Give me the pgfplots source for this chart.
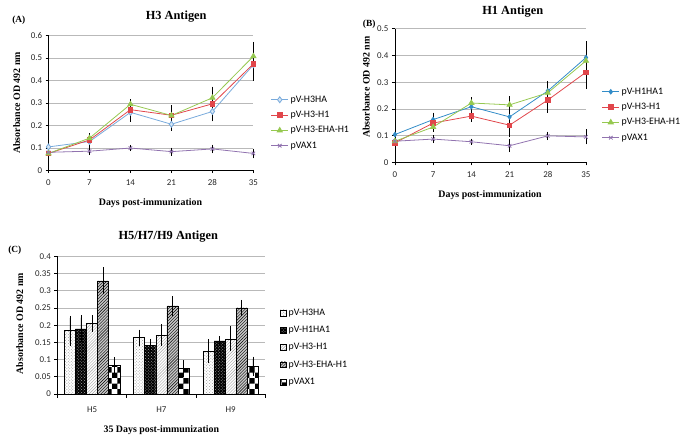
\documentclass[border=0pt]{standalone}
\usepackage{pgfplots}
\pgfplotsset{compat=1.18}
\usepackage{fontspec}
\setmainfont{Liberation Serif}
\newfontfamily\carlito{Carlito}
\usetikzlibrary{patterns}
\definecolor{cblueA}{RGB}{120,170,220}
\definecolor{cblueB}{RGB}{50,140,200}
\definecolor{cred}{RGB}{225,70,75}
\definecolor{cgreen}{RGB}{150,200,80}
\definecolor{cpurple}{RGB}{145,115,175}
\pgfplotsset{
  base/.style={
    scale only axis, axis x line*=bottom, axis y line*=left, ymin=0,
    ymajorgrids, grid style={gray!55, line width=0.6pt},
    tick align=outside, major tick length=3pt,
    tick style={black, line width=0.6pt}, axis line style={black, line width=0.6pt},
    ticklabel style={font=\carlito\fontsize{9}{10}\selectfont, text=black!85},
    /pgf/number format/assume math mode=true, scaled y ticks=false,
    /pgf/number format/fixed, /pgf/number format/precision=2,
    legend style={draw=none, fill=none, font=\carlito\fontsize{10}{11}\selectfont, anchor=west,
      row sep=3.5pt},
    legend cell align=left,
  },
  errb/.style={error bars/.cd, y dir=both, y explicit,
    error bar style={black, line width=0.6pt, solid},
    error mark options={black, line width=0.6pt, mark size=2.2pt, solid}},
}
\begin{document}
\begin{tikzpicture}[x=1pt,y=1pt]
\path (0,0) rectangle (685,449);
% ---------------- Panel A
\begin{axis}[base, clip=false, at={(49pt,277pt)}, anchor=south west, width=207pt, height=136pt,
  xmin=0, xmax=35, xtick={0,7,14,21,28,35}, ymax=0.6, ytick={0,0.1,0.2,0.3,0.4,0.5,0.6},
  xticklabel style={yshift=-3pt},
  legend style={at={(1.07,0.353)}}]
\addplot[cblueA, line width=0.8pt, mark=diamond*, mark size=3pt, mark options={fill=cblueA!30, draw=cblueA, solid}, errb]
 table[x=x, y=y, y error=e] {
x y e
0 0.104 0.010
7 0.128 0.020
14 0.258 0.032
21 0.205 0.020
28 0.262 0.035
35 0.470 0.060
};
\addlegendentry{pV-H3HA}
\addplot[cred, line width=0.8pt, mark=square*, mark size=2.3pt, mark options={fill=cred, draw=cred, solid}, errb]
 table[x=x, y=y, y error=e] {
x y e
0 0.075 0.010
7 0.135 0.015
14 0.270 0.025
21 0.245 0.020
28 0.296 0.030
35 0.474 0.065
};
\addlegendentry{pV-H3-H1}
\addplot[cgreen, line width=0.8pt, mark=triangle*, mark size=3pt, mark options={fill=cgreen, draw=cgreen, solid}, errb]
 table[x=x, y=y, y error=e] {
x y e
0 0.075 0.010
7 0.143 0.012
14 0.294 0.012
21 0.244 0.035
28 0.323 0.040
35 0.508 0.055
};
\addlegendentry{pV-H3-EHA-H1}
\addplot[cpurple, line width=0.8pt, mark=x, mark size=2.5pt, mark options={draw=cpurple, solid}, errb]
 table[x=x, y=y, y error=e] {
x y e
0 0.080 0.005
7 0.085 0.008
14 0.099 0.004
21 0.083 0.008
28 0.095 0.010
35 0.075 0.012
};
\addlegendentry{pVAX1}
\end{axis}
% ---------------- Panel B
\begin{axis}[base, clip=false, at={(399pt,285pt)}, anchor=south west, width=193pt, height=135pt,
  xmin=0, xmax=35, xtick={0,7,14,21,28,35}, ymax=0.5, ytick={0,0.1,0.2,0.3,0.4,0.5},
  xticklabel style={yshift=-3pt},
  legend style={at={(1.067,0.356)}}]
\addplot[cblueB, line width=0.8pt, mark=diamond*, mark size=2.3pt, mark options={fill=cblueB, draw=cblueB, solid}, errb]
 table[x=x, y=y, y error=e] {
x y e
0 0.104 0.015
7 0.160 0.018
14 0.208 0.020
21 0.170 0.015
28 0.267 0.030
35 0.392 0.052
};
\addlegendentry{pV-H1HA1}
\addplot[cred, line width=0.8pt, mark=square*, mark size=2.3pt, mark options={fill=cred, draw=cred, solid}, errb]
 table[x=x, y=y, y error=e] {
x y e
0 0.073 0.012
7 0.147 0.018
14 0.173 0.013
21 0.139 0.037
28 0.233 0.040
35 0.337 0.055
};
\addlegendentry{pV-H3-H1}
\addplot[cgreen, line width=0.8pt, mark=triangle*, mark size=3pt, mark options={fill=cgreen, draw=cgreen, solid}, errb]
 table[x=x, y=y, y error=e] {
x y e
0 0.079 0.010
7 0.132 0.010
14 0.222 0.014
21 0.215 0.025
28 0.260 0.030
35 0.380 0.045
};
\addlegendentry{pV-H3-EHA-H1}
\addplot[cpurple, line width=0.8pt, mark=x, mark size=2.5pt, mark options={draw=cpurple, solid}, errb]
 table[x=x, y=y, y error=e] {
x y e
0 0.079 0.006
7 0.087 0.007
14 0.077 0.004
21 0.062 0.016
28 0.099 0.008
35 0.095 0.020
};
\addlegendentry{pVAX1}
\end{axis}
% ---------------- Panel C
\begin{axis}[base, at={(58pt,51pt)}, anchor=south west, width=210pt, height=139pt,
  ybar=0pt, bar width=0.16, xmin=-0.5, xmax=2.5, xtick={0,1,2}, xticklabels={H5,H7,H9},
  minor xtick={-0.5,0.5,1.5,2.5}, major x tick style={draw=none},
  minor x tick style={black, line width=0.6pt}, minor tick length=4pt,
  xticklabel style={yshift=-6pt},
  ymax=0.4, ytick={0,0.05,0.1,0.15,0.2,0.25,0.3,0.35,0.4},
  legend style={at={(1.057,0.338)}, row sep=5.5pt},
  legend image code/.code={\draw[#1, draw=black, line width=0.5pt] (0pt,-3pt) rectangle (6pt,3pt);}]
\addplot[draw=black, line width=0.5pt, fill=white, postaction={pattern=crosshatch dots, pattern color=gray!80}, errb]
 table[x=x, y=y, y error=e] {
x y e
0 0.184 0.037
1 0.164 0.017
2 0.124 0.029
};
\addlegendentry{pV-H3HA}
\addplot[draw=black, line width=0.5pt, fill=black, postaction={pattern=crosshatch dots, pattern color=gray!70}, errb]
 table[x=x, y=y, y error=e] {
x y e
0 0.189 0.033
1 0.142 0.012
2 0.154 0.008
};
\addlegendentry{pV-H1HA1}
\addplot[draw=black, line width=0.5pt, fill=white, postaction={pattern=north east lines, pattern color=gray!70}, errb]
 table[x=x, y=y, y error=e] {
x y e
0 0.205 0.018
1 0.171 0.025
2 0.160 0.030
};
\addlegendentry{pV-H3-H1}
\addplot[draw=black, line width=0.5pt, fill=gray!45, postaction={pattern=north east lines, pattern color=black}, errb]
 table[x=x, y=y, y error=e] {
x y e
0 0.329 0.033
1 0.256 0.022
2 0.250 0.017
};
\addlegendentry{pV-H3-EHA-H1}
\addplot[draw=black, line width=0.5pt, fill=white, postaction={pattern=checkerboard, pattern color=black}, errb]
 table[x=x, y=y, y error=e] {
x y e
0 0.083 0.017
1 0.074 0.017
2 0.080 0.022
};
\addlegendentry{pVAX1}
\end{axis}
% ---------------- titles and labels
\node[font=\bfseries\fontsize{12.5}{14}\selectfont] at (178,432) {H3 Antigen};
\node[font=\bfseries\fontsize{9.5}{11}\selectfont] at (19,429) {(A)};
\node[font=\bfseries\fontsize{10}{12}\selectfont, rotate=90] at (17,345) {Absorbance OD 492 nm};
\node[font=\bfseries\fontsize{10}{12}\selectfont] at (152,244) {Days post-immunization};
\node[font=\bfseries\fontsize{12.5}{14}\selectfont] at (518,437) {H1 Antigen};
\node[font=\bfseries\fontsize{9.5}{11}\selectfont] at (373,424) {(B)};
\node[font=\bfseries\fontsize{10}{12}\selectfont, rotate=90] at (370,361) {Absorbance OD 492 nm};
\node[font=\bfseries\fontsize{10}{12}\selectfont] at (495,252) {Days post-immunization};
\node[font=\bfseries\fontsize{12.5}{14}\selectfont] at (170,210) {H5/H7/H9 Antigen};
\node[font=\bfseries\fontsize{9.5}{11}\selectfont] at (15,196) {(C)};
\node[font=\bfseries\fontsize{10}{12}\selectfont, rotate=90] at (20,122) {Absorbance OD 492 nm};
\node[font=\bfseries\fontsize{10}{12}\selectfont] at (163,14) {35 Days post-immunization};
\end{tikzpicture}
\end{document}
